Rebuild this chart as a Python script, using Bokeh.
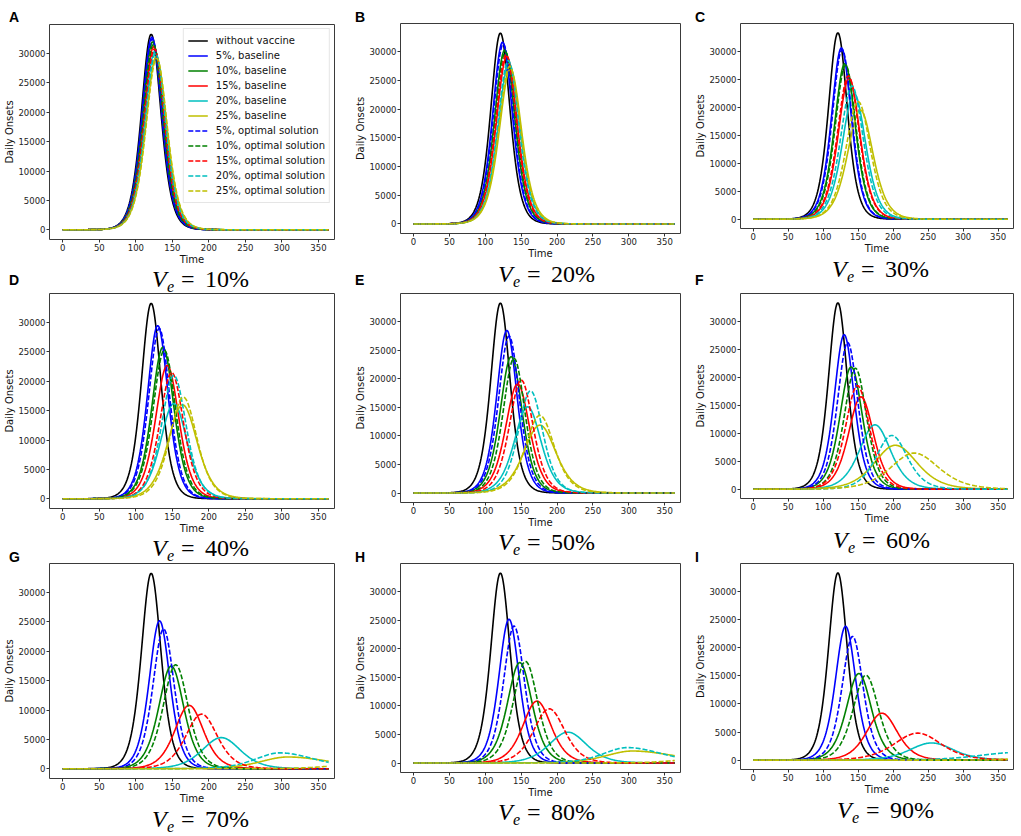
import numpy as np
from bokeh.plotting import figure
from bokeh.layouts import column, row
from bokeh.models import FixedTicker, Legend, LegendItem, Range1d, Div
from bokeh.embed import file_html
from bokeh.resources import INLINE

# ---------------- data ----------------
TIME = np.arange(0, 365)
X_TICKS = [0, 50, 100, 150, 200, 250, 300, 350]
Y_TICKS = [0, 5000, 10000, 15000, 20000, 25000, 30000]

SERIES_LABELS = ["without vaccine", "5%, baseline", "10%, baseline", "15%, baseline",
                 "20%, baseline", "25%, baseline", "5%, optimal solution",
                 "10%, optimal solution", "15%, optimal solution",
                 "20%, optimal solution", "25%, optimal solution"]
SERIES_COLORS = ["#000000", "#0000ff", "#008000", "#ff0000", "#00bfbf", "#bfbf00",
                 "#0000ff", "#008000", "#ff0000", "#00bfbf", "#bfbf00"]
SERIES_DASHED = [False, False, False, False, False, False, True, True, True, True, True]

PANEL_LETTERS = ["A", "B", "C", "D", "E", "F", "G", "H", "I"]
PANEL_VE = ["10%", "20%", "30%", "40%", "50%", "60%", "70%", "80%", "90%"]

# per panel (A..I), per series (order of SERIES_LABELS)
PEAK_DAY = [
    [121, 122, 123, 124.5, 126, 128, 122.5, 124, 125.5, 127, 128.5],
    [121, 124, 127, 130, 133, 135, 125, 128, 129, 132, 134],
    [121, 126, 131, 137, 144, 153, 127, 132, 136, 141, 150],
    [121, 130, 137, 143, 152, 164, 132, 139, 149, 152, 165],
    [121, 130, 136, 145, 159, 176, 133, 140, 150, 163, 176],
    [121, 130, 140, 154, 174, 203, 135, 146, 149, 198, 230],
    [121, 132.5, 148.5, 173, 217, 308, 138, 154.5, 190, 297, 400],
    [121, 133, 148, 172, 215, 305, 140, 156, 189, 298, 400],
    [121, 132, 151, 184, 255, 420, 142, 161, 235, 375, 430],
]
PEAK_VALUE = [
    [33300, 32800, 32000, 31200, 30400, 29500, 32500, 31600, 30800, 30000, 29200],
    [33300, 31700, 30300, 29200, 28000, 27000, 31400, 30000, 29500, 28500, 27500],
    [33300, 30600, 27800, 25200, 22500, 19500, 30300, 27500, 25600, 23800, 21000],
    [33300, 29500, 25800, 22700, 16200, 16000, 29000, 25300, 21500, 21000, 17300],
    [33300, 28500, 23900, 19100, 15100, 11900, 27500, 23600, 19800, 17900, 13600],
    [33300, 27600, 21850, 16500, 11500, 7850, 26200, 21600, 18500, 9600, 6450],
    [33300, 25200, 17500, 10800, 5300, 2000, 23800, 17700, 9300, 2700, 700],
    [33300, 25200, 17600, 10850, 5400, 2100, 24000, 17800, 9500, 2700, 700],
    [33300, 23800, 15400, 8350, 3060, 400, 22000, 15100, 4800, 1350, 200],
]
RISE_WIDTH = [
    [18, 18.2, 18.5, 18.8, 19.1, 19.5, 18.3, 18.6, 18.9, 19.2, 19.6],
    [18, 18.6, 19.2, 19.8, 20.4, 21, 18.7, 19.3, 19.6, 20.1, 20.7],
    [18, 19, 20, 21, 22.5, 24.5, 19, 20, 21, 22, 23.5],
    [18, 19, 20.5, 21.5, 24.5, 27, 19.2, 20.8, 22, 22.5, 25],
    [18, 19, 20.5, 22.5, 25, 30, 19.5, 20.5, 22, 23, 27],
    [18, 19, 21.5, 24, 30, 40, 19.5, 21.5, 23, 30, 45],
    [18, 19, 23, 26.5, 35, 50, 19.5, 23, 29, 45, 50],
    [18, 19, 23, 26.5, 35, 50, 19.5, 23, 29, 45, 50],
    [18, 19.5, 24, 29.5, 42, 60, 20, 24.5, 45, 70, 60],
]
FALL_WIDTH = [
    [18, 18.2, 18.5, 18.8, 19.1, 19.5, 18.3, 18.6, 18.9, 19.2, 19.6],
    [18, 18.6, 19.2, 19.8, 20.4, 21, 18.7, 19.3, 19.6, 20.1, 20.7],
    [18, 19, 20, 21, 22.5, 24.5, 19, 20, 21, 22, 23.5],
    [18, 19, 20.5, 21.5, 24.5, 27, 19.2, 20.8, 22, 22.5, 25],
    [18, 19, 20.5, 22.5, 25, 30, 19.5, 20.5, 22, 23, 27],
    [18, 19, 21.5, 24, 30, 42, 19.5, 21.5, 23, 30, 47],
    [18, 19, 23, 26.5, 35, 80, 19.5, 23, 29, 65, 50],
    [18, 19, 23, 26.5, 35, 80, 19.5, 23, 29, 65, 50],
    [18, 19.5, 24, 29.5, 42, 60, 20, 24.5, 45, 70, 60],
]

# ---------------- layout (page pixels, page origin at 0,0) ----------------
COL_X = [0, 352, 692]
COL_W = [352, 340, 329]
COL_BL = [49, 45, 47]
COL_FW = [285, 283, 274]
# vertical bands per column: [div0, fig1, div1, fig2, div2, fig3, div3]
BANDS = [
    [23, 245, 24, 246, 24, 246, 28],
    [22, 239, 31, 238, 32, 238, 36],
    [22, 234, 36, 234, 36, 235, 39],
]
FRAME_H = [[215, 215, 215], [210, 210, 210], [206, 206, 207]]  # [col][row]
FIG_BT = 1

CAP_X0 = [[152, 498, 832], [152, 498, 833], [152, 498, 837]]   # [row][col]
CAP_BASE = [[287, 282, 277], [556, 550, 548], [827, 820, 818]]
LET_X = [9, 355, 695]
LET_BASE = [22, 285, 562]


def curve(k, j):
    tp = PEAK_DAY[k][j]
    w = np.where(TIME < tp, RISE_WIDTH[k][j], FALL_WIDTH[k][j])
    return PEAK_VALUE[k][j] / np.cosh((TIME - tp) / w) ** 2


def make_fig(k, c, fig_h, frame_h):
    bl = COL_BL[c]
    br = COL_W[c] - bl - COL_FW[c]
    bb = fig_h - FIG_BT - frame_h
    p = figure(width=COL_W[c], height=fig_h,
               x_range=Range1d(-18.2, 372), y_range=Range1d(-1665, 34965),
               output_backend="svg", toolbar_location=None, title=None,
               min_border_left=bl, min_border_right=br,
               min_border_top=FIG_BT, min_border_bottom=bb)
    p.background_fill_color = "white"
    p.border_fill_color = "white"
    p.outline_line_color = "#3a3a3a"
    p.outline_line_width = 1
    p.xgrid.visible = False
    p.ygrid.visible = False
    p.xaxis.ticker = FixedTicker(ticks=X_TICKS)
    p.yaxis.ticker = FixedTicker(ticks=Y_TICKS)
    p.xaxis.axis_label = "Time"
    p.yaxis.axis_label = "Daily Onsets"
    for ax in (p.xaxis[0], p.yaxis[0]):
        ax.axis_line_color = None
        ax.major_tick_line_color = "#333333"
        ax.major_tick_out = 3
        ax.major_tick_in = 0
        ax.minor_tick_line_color = None
        ax.major_label_text_font = "DejaVu Sans"
        ax.major_label_text_font_size = "8.5px"
        ax.major_label_text_color = "#222222"
        ax.major_label_standoff = 1
        ax.axis_label_text_font = "DejaVu Sans"
        ax.axis_label_text_font_size = "10px"
        ax.axis_label_text_font_style = "normal"
        ax.axis_label_text_color = "#111111"
        ax.axis_label_standoff = 0

    rends = []
    for j in range(11):
        kw = dict(line_color=SERIES_COLORS[j], line_width=1.6)
        if SERIES_DASHED[j]:
            kw["line_dash"] = "5 2"
        rends.append(p.line(TIME, curve(k, j), **kw))

    if k == 0:
        legend = Legend(items=[LegendItem(label=SERIES_LABELS[j], renderers=[rends[j]])
                               for j in range(11)],
                        location="top_right")
        legend.label_text_font = "DejaVu Sans"
        legend.label_text_font_size = "10px"
        legend.label_text_color = "#111111"
        legend.glyph_width = 20
        legend.glyph_height = 15
        legend.label_height = 15
        legend.spacing = 0
        legend.padding = 4
        legend.margin = 4
        legend.label_standoff = 8
        legend.border_line_color = "#cccccc"
        legend.border_line_width = 1
        legend.background_fill_alpha = 0.85
        p.add_layout(legend)
    return p


def span(left, top, text, css):
    return (f'<span style="position:absolute;left:{left:.1f}px;top:{top:.1f}px;'
            f'white-space:nowrap;color:#000;{css}">{text}</span>')


def letter_html(c, band_top, r):
    x = LET_X[c] - COL_X[c]
    top = LET_BASE[r] - 11.85 - band_top
    return span(x, top, PANEL_LETTERS[r * 3 + c],
                "font-family:'Liberation Sans';font-weight:bold;font-size:14px;line-height:14px;")


def caption_html(c, band_top, r):
    x0 = CAP_X0[r][c] - COL_X[c]
    base = CAP_BASE[r][c] - band_top
    big = "font-family:'Liberation Serif';font-size:24px;line-height:24px;"
    small = "font-family:'Liberation Serif';font-size:16px;line-height:16px;"
    out = span(x0, base - 20.1, "V", big + "font-style:italic;")
    out += span(x0 + 15, base + 5 - 13.4, "e", small + "font-style:italic;")
    out += span(x0 + 29, base - 20.1, "=", big)
    out += span(x0 + 53, base - 20.1, PANEL_VE[r * 3 + c], big)
    return out


def band_div(c, h, inner):
    html = f'<div style="position:relative;width:{COL_W[c]}px;height:{h}px;overflow:visible;">{inner}</div>'
    return Div(text=html, width=COL_W[c], height=h, margin=0,
               styles={"overflow": "visible"})


columns = []
for c in range(3):
    b = BANDS[c]
    tops = np.cumsum([0] + b[:-1])
    children = []
    children.append(band_div(c, b[0], letter_html(c, tops[0], 0)))
    for r in range(3):
        fig_idx = 1 + 2 * r
        p = make_fig(r * 3 + c, c, b[fig_idx], FRAME_H[c][r])
        p.margin = 0
        children.append(p)
        div_idx = fig_idx + 1
        inner = caption_html(c, tops[div_idx], r)
        if r < 2:
            inner += letter_html(c, tops[div_idx], r + 1)
        children.append(band_div(c, b[div_idx], inner))
    columns.append(column(*children, spacing=0, margin=0))

layout = row(*columns, spacing=0, margin=0)

open("out.html", "w").write(file_html(layout, INLINE))
